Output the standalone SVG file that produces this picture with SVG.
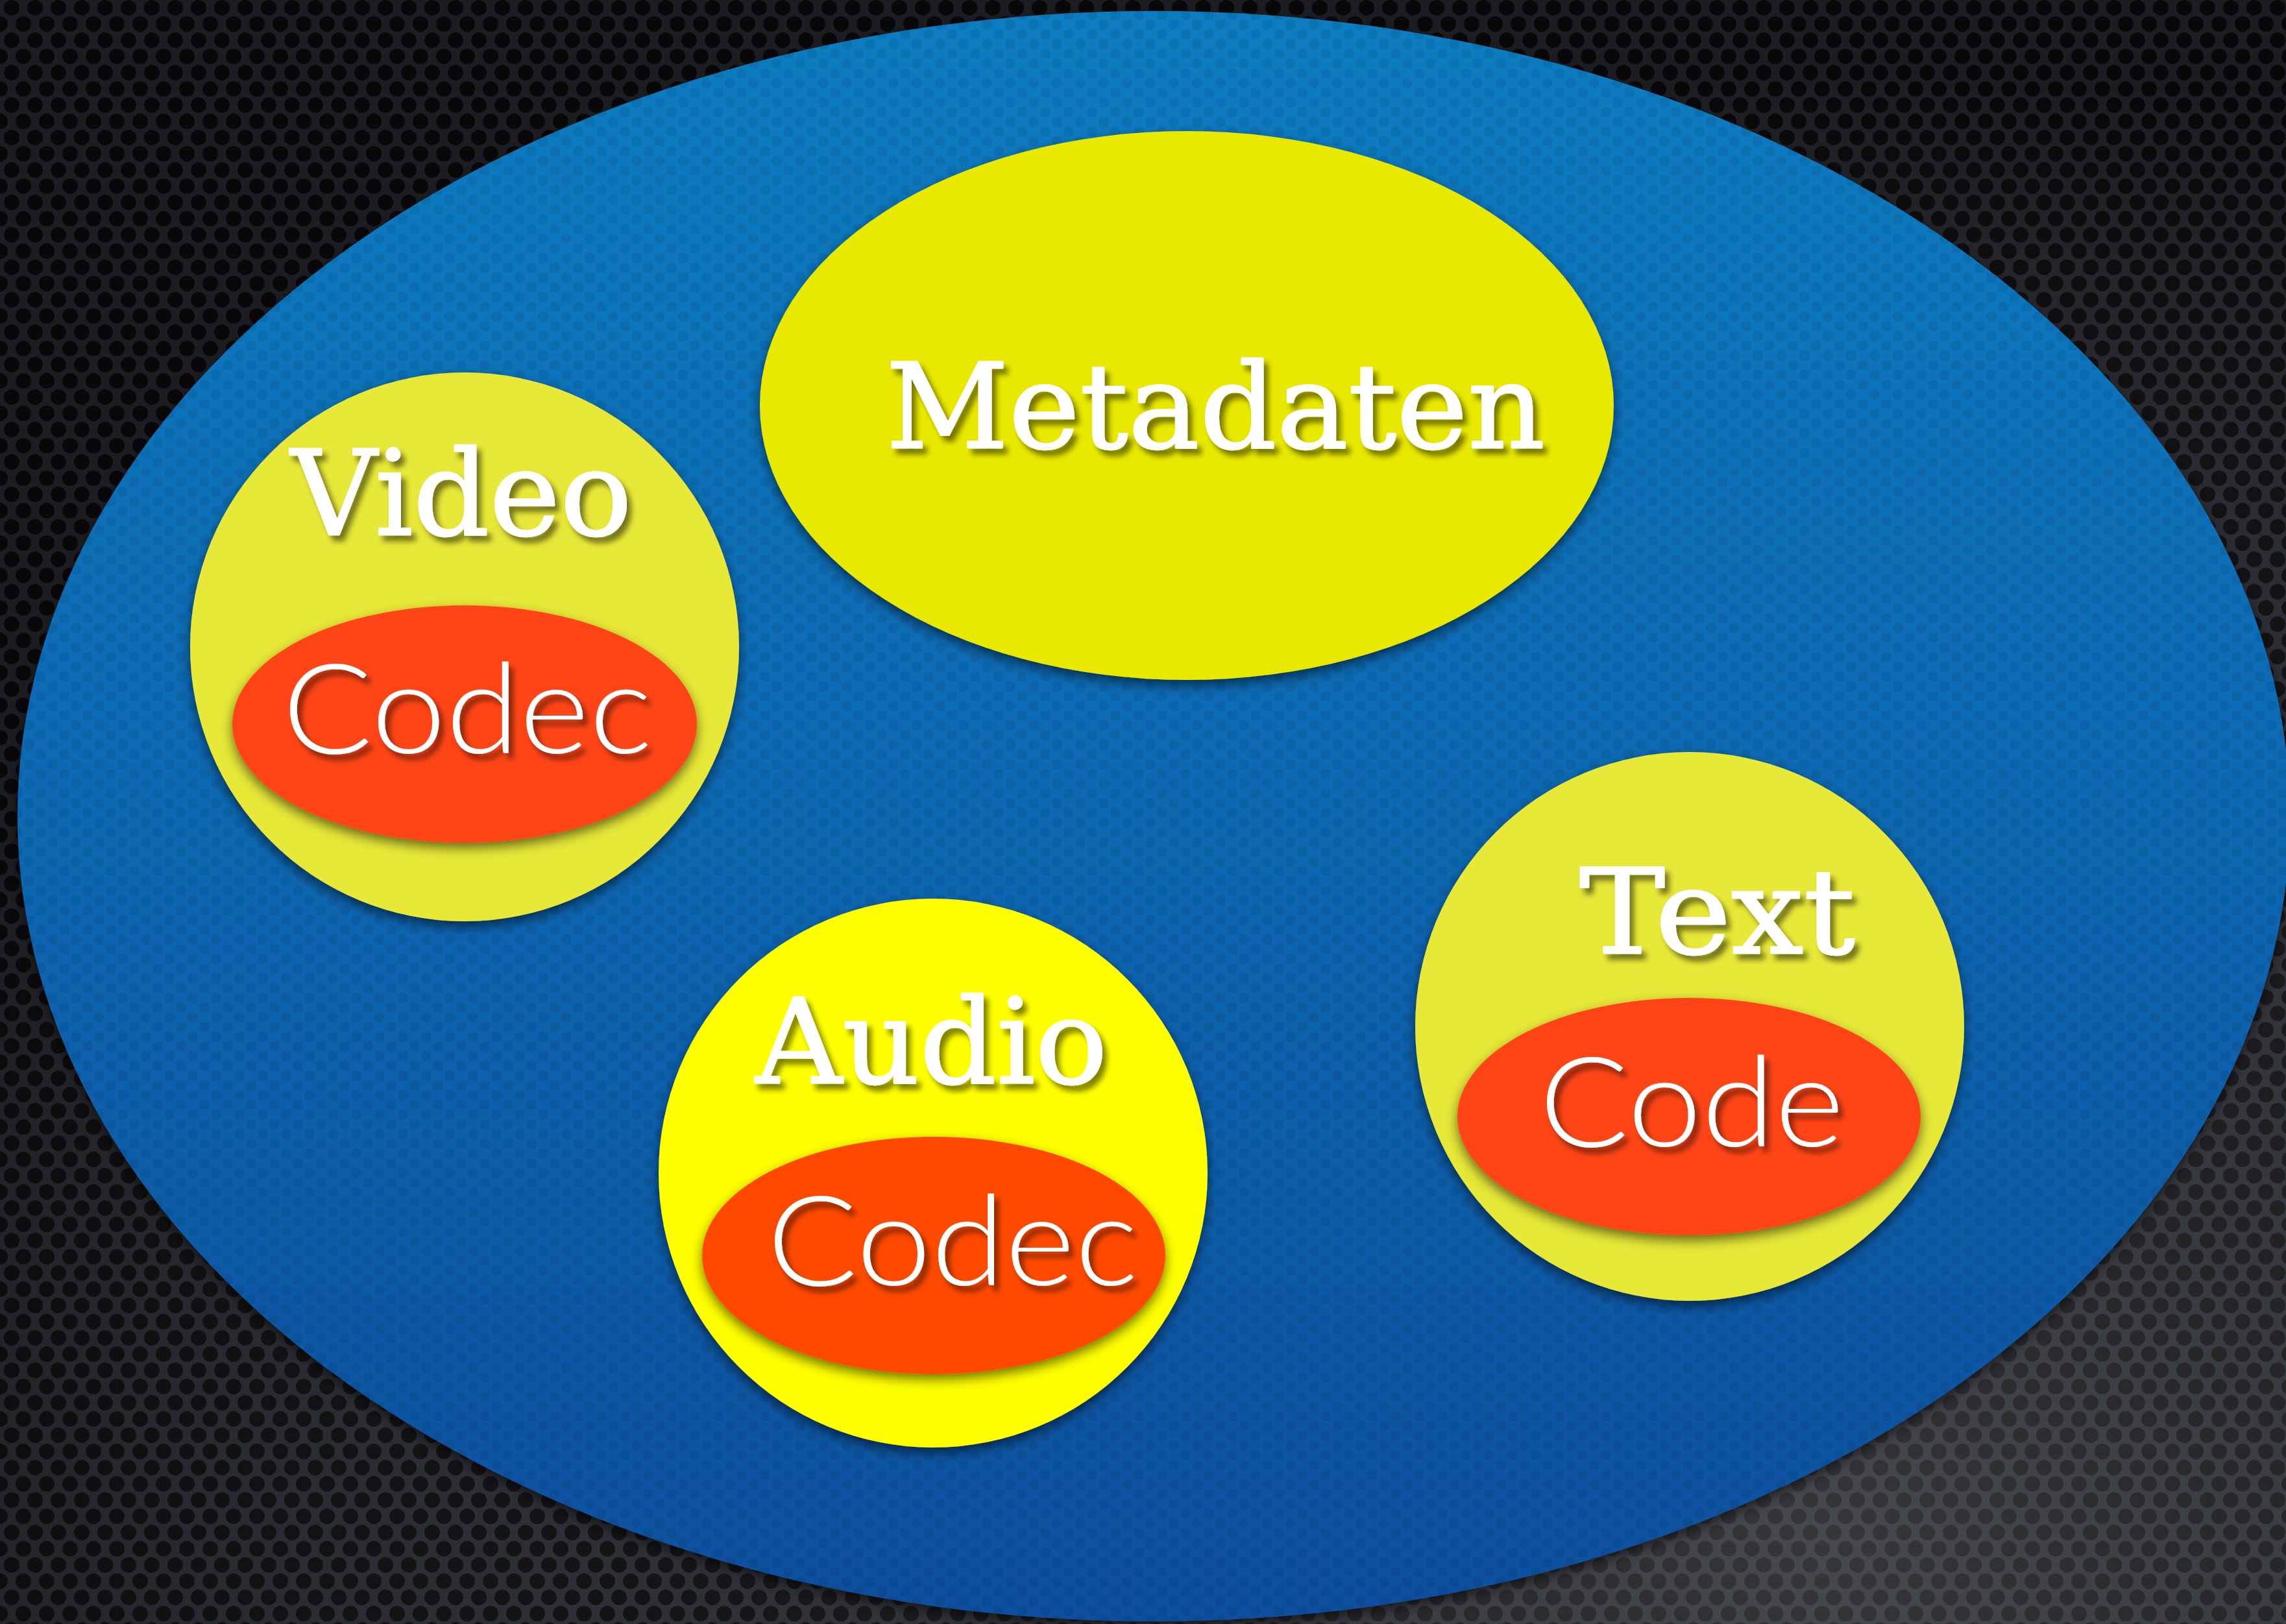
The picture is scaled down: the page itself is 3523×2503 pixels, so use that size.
<svg xmlns="http://www.w3.org/2000/svg" width="3523" height="2503" viewBox="0 0 3523 2503">
  <defs>
    <pattern id="mesh" width="36" height="50" patternUnits="userSpaceOnUse">
      <rect width="36" height="50" fill="#2b2d35"/>
      <circle cx="18" cy="12" r="12" fill="#0e0b0c"/>
      <circle cx="0" cy="37" r="12" fill="#0e0b0c"/>
      <circle cx="36" cy="37" r="12" fill="#0e0b0c"/>
    </pattern>
    <pattern id="bluedots" width="36" height="30" patternUnits="userSpaceOnUse">
      <circle cx="9" cy="8" r="8" fill="#000000" fill-opacity="0.07"/>
      <circle cx="27" cy="23" r="8" fill="#000000" fill-opacity="0.07"/>
    </pattern>
    <radialGradient id="bgglow" cx="0.8" cy="0.95" r="0.9">
      <stop offset="0" stop-color="#6a6c72" stop-opacity="0.45"/>
      <stop offset="0.6" stop-color="#3a3c42" stop-opacity="0.15"/>
      <stop offset="1" stop-color="#000000" stop-opacity="0.35"/>
    </radialGradient>
    <linearGradient id="blue" x1="0" y1="0" x2="0" y2="1">
      <stop offset="0" stop-color="#0a7cc0"/>
      <stop offset="0.5" stop-color="#0a68b2"/>
      <stop offset="1" stop-color="#0a4f9e"/>
    </linearGradient>
    <filter id="shapeShadow" x="-10%" y="-10%" width="120%" height="125%">
      <feDropShadow dx="0" dy="8" stdDeviation="9" flood-color="#000000" flood-opacity="0.55"/>
    </filter>
    <filter id="textShadow" x="-10%" y="-20%" width="125%" height="150%">
      <feDropShadow dx="7" dy="9" stdDeviation="4" flood-color="#000000" flood-opacity="0.5"/>
    </filter>
    <style>
      .label { font-family: "DejaVu Serif", "Liberation Serif", serif; font-size: 182px; fill: #ffffff; stroke: #ffffff; stroke-width: 2.5px; stroke-linejoin: round; filter: url(#textShadow); }
      .codec { font-family: "Lato", "Open Sans", "Roboto", sans-serif; font-weight: 300; font-size: 194px; fill: #ffffff; filter: url(#textShadow); }
      .shape { filter: url(#shapeShadow); }
    </style>
  </defs>

  <rect width="3523" height="2503" fill="url(#mesh)"/>
  <rect width="3523" height="2503" fill="url(#bgglow)"/>

  <g id="container">
    <ellipse class="shape" cx="1778" cy="1258" rx="1751" ry="1241" fill="url(#blue)"/>
    <ellipse cx="1778" cy="1258" rx="1751" ry="1241" fill="url(#bluedots)"/>
  </g>

  <g id="connectors"></g>

  <g id="metadaten">
    <ellipse class="shape" cx="1829" cy="625" rx="658" ry="423" fill="#e9e900"/>
    <text class="label" x="1365" y="690" textLength="1016" lengthAdjust="spacingAndGlyphs">Metadaten</text>
  </g>

  <g id="video">
    <circle class="shape" cx="716" cy="997" r="423" fill="#e8e838"/>
    <text class="label" x="448" y="824" textLength="526" lengthAdjust="spacingAndGlyphs">Video</text>
  </g>
  <g id="video-codec">
    <ellipse class="shape" cx="716" cy="1116" rx="358" ry="183" fill="#ff4519"/>
    <text class="codec" x="435" y="1161" textLength="570" lengthAdjust="spacingAndGlyphs">Codec</text>
  </g>

  <g id="audio">
    <circle class="shape" cx="1438" cy="1808" r="423" fill="#ffff00"/>
    <text class="label" x="1164" y="1669" textLength="543" lengthAdjust="spacingAndGlyphs">Audio</text>
  </g>
  <g id="audio-codec">
    <ellipse class="shape" cx="1439" cy="1935" rx="357" ry="183" fill="#ff4a00"/>
    <text class="codec" x="1182" y="1981" textLength="572" lengthAdjust="spacingAndGlyphs">Codec</text>
  </g>

  <g id="text">
    <circle class="shape" cx="2604" cy="1582" r="423" fill="#e8e838"/>
    <text class="label" x="2434" y="1469" textLength="425" lengthAdjust="spacingAndGlyphs">Text</text>
  </g>
  <g id="text-code">
    <ellipse class="shape" cx="2603" cy="1721" rx="357" ry="183" fill="#ff4519"/>
    <text class="codec" x="2372" y="1767" textLength="470" lengthAdjust="spacingAndGlyphs">Code</text>
  </g>
</svg>
